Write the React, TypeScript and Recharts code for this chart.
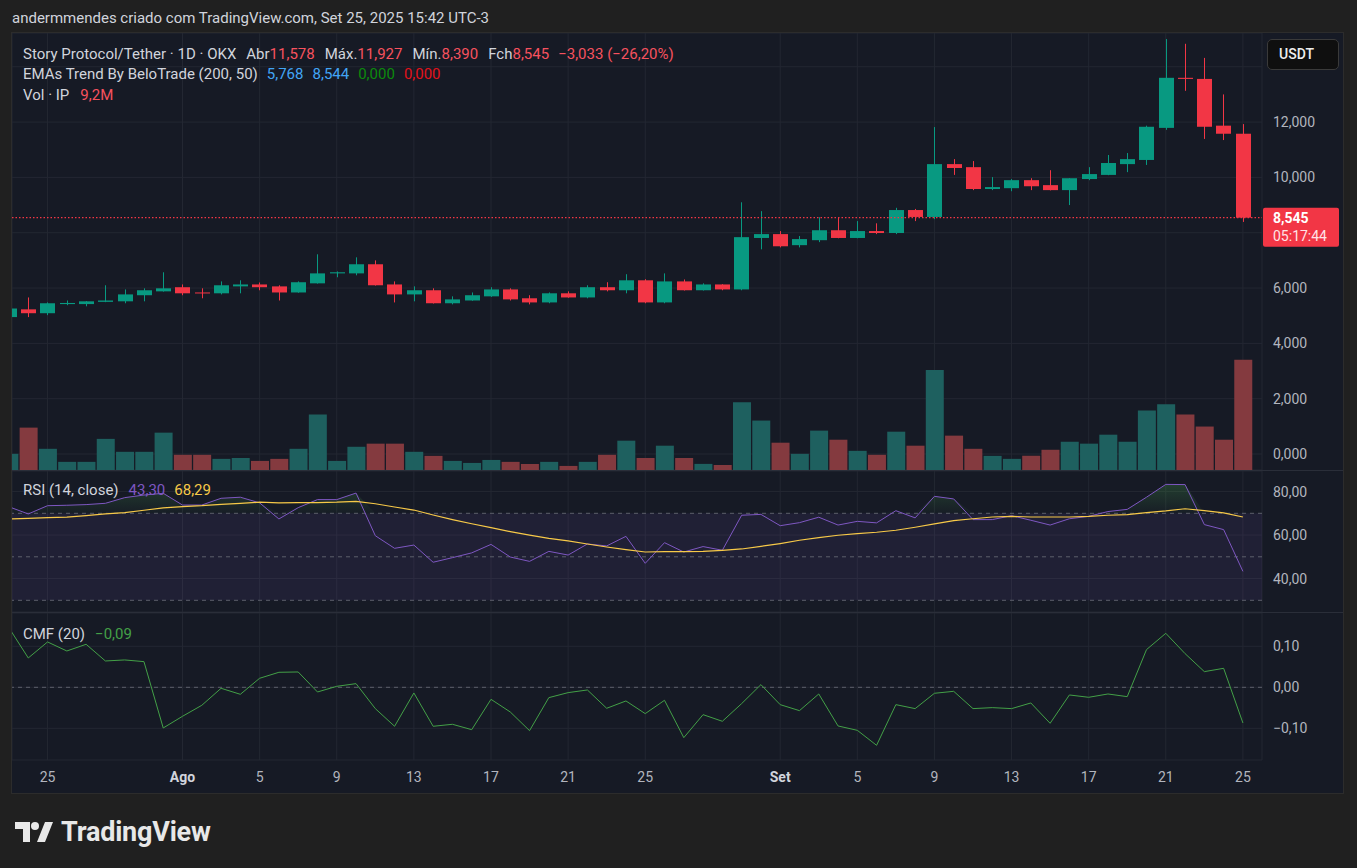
import React from 'react';
import {
  ComposedChart,
  Bar,
  Line,
  Area,
  XAxis,
  YAxis,
  CartesianGrid,
  ReferenceLine,
  ReferenceArea,
  Cell,
} from 'recharts';

// IP/USDT 1D (OKX), 23 jul – 25 set 2025
const opens = [
  4.95, 5.23, 5.09, 5.42, 5.42, 5.5, 5.52, 5.74, 5.88, 6.03,
  5.84, 5.81, 6.06, 6.13, 6.06, 5.84, 6.17, 6.53, 6.53, 6.86,
  6.13, 5.77, 5.92, 5.45, 5.55, 5.7, 5.95, 5.63, 5.48, 5.81,
  5.66, 6.03, 5.92, 6.28, 5.48, 6.24, 5.92, 6.13, 5.95, 7.81,
  7.95, 7.55, 7.73, 8.09, 7.81, 8.06, 7.99, 8.82, 8.57, 10.48,
  10.37, 9.58, 9.61, 9.9, 9.72, 9.54, 9.94, 10.09, 10.48, 10.63,
  11.79, 13.6, 13.56, 11.87, 11.578,
];
const highs = [
  5.28, 5.66, 5.48, 5.55, 5.53, 6.1, 5.95, 5.99, 6.57, 6.13,
  5.99, 6.24, 6.28, 6.2, 6.1, 6.24, 7.22, 6.6, 7.11, 7.0,
  6.24, 6.06, 5.99, 5.7, 5.84, 6.03, 5.99, 5.74, 5.84, 5.88,
  6.1, 6.21, 6.5, 6.32, 6.53, 6.31, 6.17, 6.14, 9.1, 8.78,
  8.06, 7.88, 8.56, 8.56, 8.42, 8.34, 8.9, 8.86, 11.82, 10.66,
  10.59, 10.01, 9.94, 9.97, 10.26, 9.97, 10.37, 10.81, 10.88, 11.87,
  15.0, 14.83, 14.32, 13.0, 11.927,
];
const lows = [
  4.92, 4.95, 5.02, 5.38, 5.34, 5.49, 5.45, 5.52, 5.87, 5.74,
  5.63, 5.77, 5.81, 5.92, 5.55, 5.83, 6.16, 6.39, 6.46, 6.09,
  5.48, 5.52, 5.44, 5.41, 5.54, 5.68, 5.55, 5.41, 5.45, 5.65,
  5.63, 5.88, 5.81, 5.45, 5.45, 5.91, 5.91, 5.92, 5.92, 7.4,
  7.47, 7.47, 7.66, 7.8, 7.8, 7.95, 7.95, 8.42, 8.49, 10.09,
  9.54, 9.54, 9.5, 9.54, 9.53, 9.0, 9.9, 10.08, 10.19, 10.45,
  11.72, 13.13, 11.39, 11.35, 8.39,
];
const closes = [
  5.26, 5.09, 5.45, 5.46, 5.52, 5.55, 5.77, 5.92, 5.99, 5.81,
  5.82, 6.1, 6.13, 6.03, 5.84, 6.21, 6.53, 6.57, 6.86, 6.1,
  5.77, 5.92, 5.45, 5.59, 5.74, 5.95, 5.59, 5.48, 5.81, 5.66,
  6.03, 5.92, 6.28, 5.48, 6.24, 5.92, 6.13, 5.95, 7.84, 7.95,
  7.51, 7.77, 8.09, 7.81, 8.06, 7.99, 8.82, 8.57, 10.48, 10.34,
  9.58, 9.65, 9.9, 9.68, 9.54, 9.97, 10.12, 10.52, 10.66, 11.83,
  13.6, 13.56, 11.83, 11.578, 8.545,
];
// volume em milhões
const volumes = [
  1.35, 3.54, 1.77, 0.68, 0.68, 2.6, 1.52, 1.52, 3.12, 1.27,
  1.27, 0.93, 1.0, 0.76, 0.93, 1.77, 4.64, 0.76, 1.94, 2.2,
  2.2, 1.52, 1.18, 0.76, 0.59, 0.84, 0.68, 0.51, 0.68, 0.34,
  0.68, 1.27, 2.45, 1.0, 2.03, 1.0, 0.51, 0.42, 5.65, 4.13,
  2.28, 1.35, 3.29, 2.53, 1.6, 1.27, 3.2, 2.03, 8.35, 2.87,
  1.77, 1.18, 0.93, 1.18, 1.69, 2.36, 2.2, 2.95, 2.36, 4.98,
  5.49, 4.64, 3.63, 2.53, 9.2,
];
const rsiValues = [
  73.0, 69.7, 73.5, 73.7, 74.0, 74.6, 77.2, 78.4, 79.2, 73.8,
  73.8, 76.9, 77.4, 74.8, 67.4, 72.6, 76.3, 76.3, 79.3, 59.7,
  53.9, 55.4, 47.5, 49.6, 51.8, 55.7, 49.9, 47.9, 52.5, 50.8,
  55.9, 55.0, 59.4, 47.0, 56.5, 52.2, 54.7, 53.0, 69.1, 69.5,
  64.3, 65.7, 68.2, 64.6, 66.3, 65.6, 71.2, 67.9, 77.8, 76.6,
  67.1, 67.1, 68.9, 66.8, 64.6, 67.5, 68.6, 70.8, 71.8, 77.4,
  83.3, 83.2, 64.8, 62.5, 43.3,
];
const rsiMaValues = [
  67.4, 67.7, 68.0, 68.2, 68.9, 69.7, 70.3, 71.4, 72.5, 73.1,
  73.5, 74.1, 74.6, 75.1, 74.8, 74.9, 74.9, 75.1, 75.5, 74.4,
  72.9, 71.5, 69.2, 67.1, 65.2, 63.4, 61.6, 60.0, 58.5, 57.3,
  55.9, 54.5, 53.3, 52.2, 52.4, 52.4, 52.5, 53.0, 53.6, 54.8,
  56.1, 57.6, 58.8, 59.9, 60.7, 61.3, 62.2, 63.6, 65.1, 66.6,
  67.5, 68.3, 68.6, 68.3, 68.3, 68.3, 68.6, 69.1, 69.4, 70.3,
  71.1, 72.1, 71.2, 70.2, 68.29,
];
const cmfValues = [
  0.145, 0.0715, 0.1106, 0.0886, 0.1049, 0.0642, 0.0667, 0.0626, -0.0992, -0.0707,
  -0.0439, -0.0024, -0.0171, 0.022, 0.0366, 0.0374, -0.0114, 0.0024, 0.0089, -0.052,
  -0.0951, -0.0138, -0.0951, -0.0902, -0.1033, -0.0293, -0.0602, -0.1057, -0.0252, -0.013,
  -0.0065, -0.0512, -0.0333, -0.0642, -0.0317, -0.1228, -0.0667, -0.0829, -0.0398, 0.0065,
  -0.0423, -0.0569, -0.0163, -0.0943, -0.1049, -0.1415, -0.0423, -0.052, -0.0146, -0.0098,
  -0.052, -0.0496, -0.052, -0.0382, -0.0878, -0.0187, -0.0244, -0.0163, -0.0228, 0.0919,
  0.1317, 0.0821, 0.0382, 0.0463, -0.087,
];
const emaLegend = [5.768, 8.544, 0, 0];

const tickDays = [2, 9, 13, 17, 21, 25, 29, 33, 40, 44, 48, 52, 56, 60, 64];
const tickLabels = ['25', 'Ago', '5', '9', '13', '17', '21', '25', 'Set', '5', '9', '13', '17', '21', '25'];
const priceTicks = [0, 2, 4, 6, 8, 10, 12, 14];
const hiddenPriceLabels = [8, 14];
const rsiTicks = [40, 60, 80];
const rsiLevels = [70, 50, 30];
const cmfTicks = [-0.1, 0, 0.1];

const FONT = 'Roboto, "Liberation Sans", sans-serif';
const BG = '#161a25';
const GRID = '#232732';
const TEXT = '#b2b5be';
const LEGEND = '#d1d4dc';
const UP = '#089981';
const DOWN = '#f23645';
const VOL_UP = '#1e605f';
const VOL_DOWN = '#843a3f';
const DASH = '#5d606b';

const W = 1331;
const AXIS_W = 81;
const X_DOMAIN = [0.156, 64.99];
const PRICE_DOMAIN = [-0.578, 15.22];
const VOL_DOMAIN = [0, 36.5];
const RSI_DOMAIN = [24.62, 89.45];
const CMF_DOMAIN = [-0.1773, 0.1812];
const ZERO = { top: 0, right: 0, bottom: 0, left: 0 };

const fmt = (v: number, d: number) => v.toFixed(d).replace('.', ',').replace('-', '\u2212');

const Candle = (props: any) => {
  const { x, y, width, height, payload } = props;
  const { open, close, high, low } = payload;
  const color = close >= open ? UP : DOWN;
  const top = Math.min(y, y + height);
  const h = Math.abs(height);
  const ppu = h / (high - low);
  const cx = Math.round(x + width / 2);
  const bodyTop = top + (high - Math.max(open, close)) * ppu;
  const bodyH = Math.max(1, Math.abs(open - close) * ppu);
  return (
    <g>
      <line x1={cx + 0.5} x2={cx + 0.5} y1={top} y2={top + h} stroke={color} strokeWidth={1} />
      <rect x={cx - 7} y={bodyTop} width={15} height={bodyH} fill={color} />
    </g>
  );
};

const PriceTick = (props: any) => {
  const { x, y, payload } = props;
  if (hiddenPriceLabels.includes(payload.value)) return <g />;
  return (
    <text x={x + 3} y={y} dy={5} fontSize={14} fill={TEXT} fontFamily={FONT} textAnchor="start">
      {fmt(payload.value, 3)}
    </text>
  );
};

const makeTick = (digits: number) => (props: any) => {
  const { x, y, payload } = props;
  return (
    <text x={x + 3} y={y} dy={5} fontSize={14} fill={TEXT} fontFamily={FONT} textAnchor="start">
      {fmt(payload.value, digits)}
    </text>
  );
};

const TimeTick = (props: any) => {
  const { x, y, payload } = props;
  const label = tickLabels[tickDays.indexOf(payload.value)];
  const strong = label === 'Ago' || label === 'Set';
  return (
    <text
      x={x}
      y={y}
      dy={14}
      textAnchor="middle"
      fontSize={14}
      fontFamily={FONT}
      fontWeight={strong ? 700 : 400}
      fill={strong ? LEGEND : TEXT}
    >
      {label}
    </text>
  );
};

const lastClose = closes[closes.length - 1];

const PriceTag = (props: any) => {
  const { viewBox } = props;
  const left = viewBox.x + viewBox.width;
  const yy = viewBox.y;
  return (
    <g>
      <rect x={left + 1} y={yy - 10} width={76} height={39} rx={2} fill={DOWN} />
      <text x={left + 11} y={yy + 5} fontSize={14} fontWeight={700} fill="#ffffff" fontFamily={FONT}>
        {fmt(lastClose, 3)}
      </text>
      <text x={left + 11} y={yy + 23} fontSize={14} fill="#ffe3e6" fontFamily={FONT}>
        05:17:44
      </text>
    </g>
  );
};

const candleRange = (d: any) => [d.low, d.high];
const obRange = (d: any) => [70, Math.max(70, d.rsi)];

const Val = ({ color, children, gap = 0 }: any) => (
  <span style={{ color, marginLeft: gap }}>{children}</span>
);

export default function App() {
  const rows = closes.map((close, i) => ({
    i,
    open: opens[i],
    high: highs[i],
    low: lows[i],
    close,
    vol: volumes[i],
    rsi: rsiValues[i],
    rsiMa: rsiMaValues[i],
    cmf: cmfValues[i],
  }));
  const n = rows.length - 1;
  const prev = closes[n - 1];
  const chg = lastClose - prev;
  const pct = (chg / prev) * 100;
  const red = '#f7525f';

  const xAxisHidden = (
    <XAxis type="number" dataKey="i" domain={X_DOMAIN} ticks={tickDays} allowDataOverflow hide interval={0} />
  );

  const legendBase: React.CSSProperties = {
    position: 'absolute',
    left: 23,
    fontSize: 15,
    lineHeight: '20px',
    whiteSpace: 'nowrap',
    color: LEGEND,
    fontFamily: FONT,
  };

  return (
    <div
      style={{
        position: 'absolute',
        left: 0,
        top: 0,
        width: 1357,
        height: 868,
        background: '#202020',
        overflow: 'hidden',
        fontFamily: FONT,
      }}
    >
      <div style={{ position: 'absolute', left: 12, top: 9, fontSize: 15, color: LEGEND }}>
        andermmendes criado com TradingView.com, Set 25, 2025 15:42 UTC-3
      </div>

      <div
        style={{
          position: 'absolute',
          left: 11,
          top: 32,
          width: W + 2,
          height: 762,
          boxSizing: 'border-box',
          border: '1px solid #2c2c2c',
          background: BG,
        }}
      />

      {/* price pane: grid, volume, price scale */}
      <div style={{ position: 'absolute', left: 12, top: 33 }}>
        <ComposedChart width={W} height={437} data={rows} margin={ZERO}>
          <CartesianGrid stroke={GRID} />
          {xAxisHidden}
          <YAxis
            orientation="right"
            width={AXIS_W}
            domain={PRICE_DOMAIN}
            ticks={priceTicks}
            allowDataOverflow
            interval={0}
            axisLine={false}
            tickLine={false}
            tick={<PriceTick />}
          />
          <YAxis yAxisId="vol" hide domain={VOL_DOMAIN} allowDataOverflow />
          <Bar yAxisId="vol" dataKey="vol" barSize={18} isAnimationActive={false}>
            {rows.map((r) => (
              <Cell key={r.i} fill={r.close >= r.open ? VOL_UP : VOL_DOWN} />
            ))}
          </Bar>
        </ComposedChart>
      </div>

      {/* price pane: candles */}
      <div style={{ position: 'absolute', left: 12, top: 33 }}>
        <ComposedChart width={W} height={437} data={rows} margin={{ top: 0, right: AXIS_W, bottom: 0, left: 0 }}>
          {xAxisHidden}
          <YAxis hide domain={PRICE_DOMAIN} allowDataOverflow />
          <Bar dataKey={candleRange} barSize={15} shape={Candle} isAnimationActive={false} />
          <ReferenceLine
            y={lastClose}
            stroke={DOWN}
            strokeWidth={1.3}
            strokeDasharray="1.5 2"
            label={PriceTag}
          />
        </ComposedChart>
      </div>

      <div
        style={{
          position: 'absolute',
          left: 1267,
          top: 39,
          width: 72,
          height: 31,
          boxSizing: 'border-box',
          border: '1px solid #3a3a3a',
          borderRadius: 5,
          background: '#0f0f0f',
          color: '#eeeeee',
          fontSize: 14,
          fontWeight: 500,
          lineHeight: '29px',
          paddingLeft: 11,
        }}
      >
        USDT
      </div>

      <div style={{ ...legendBase, top: 44 }}>
        Story Protocol/Tether · 1D · OKX
        <Val gap={10} color={LEGEND}>Abr</Val>
        <Val color={red}>{fmt(opens[n], 3)}</Val>
        <Val gap={10} color={LEGEND}>Máx.</Val>
        <Val color={red}>{fmt(highs[n], 3)}</Val>
        <Val gap={10} color={LEGEND}>Mín.</Val>
        <Val color={red}>{fmt(lows[n], 3)}</Val>
        <Val gap={10} color={LEGEND}>Fch</Val>
        <Val color={red}>{fmt(lastClose, 3)}</Val>
        <Val gap={9} color={red}>
          {fmt(chg, 3)} ({fmt(pct, 2)}%)
        </Val>
      </div>
      <div style={{ ...legendBase, top: 64 }}>
        EMAs Trend By BeloTrade (200, 50)
        <Val gap={9} color="#42a5f5">{fmt(emaLegend[0], 3)}</Val>
        <Val gap={9} color="#42a5f5">{fmt(emaLegend[1], 3)}</Val>
        <Val gap={9} color="#0c8a0c">{fmt(emaLegend[2], 3)}</Val>
        <Val gap={9} color="#e3121b">{fmt(emaLegend[3], 3)}</Val>
      </div>
      <div style={{ ...legendBase, top: 85 }}>
        Vol · IP
        <Val gap={11} color={red}>{fmt(volumes[n], 1)}M</Val>
      </div>

      <div style={{ position: 'absolute', left: 12, top: 470, width: W, height: 1, background: '#2a2e39' }} />

      {/* RSI pane */}
      <div style={{ position: 'absolute', left: 12, top: 471 }}>
        <ComposedChart width={W} height={141} data={rows} margin={ZERO}>
          <defs>
            <linearGradient id="obFill" x1="0" y1="0" x2="0" y2="1">
              <stop offset="0%" stopColor="#4caf50" stopOpacity={0.4} />
              <stop offset="100%" stopColor="#4caf50" stopOpacity={0.04} />
            </linearGradient>
          </defs>
          <CartesianGrid stroke={GRID} />
          {xAxisHidden}
          <YAxis
            orientation="right"
            width={AXIS_W}
            domain={RSI_DOMAIN}
            ticks={rsiTicks}
            allowDataOverflow
            interval={0}
            axisLine={false}
            tickLine={false}
            tick={makeTick(2)}
          />
          <ReferenceArea y1={30} y2={70} fill="#7e57c2" fillOpacity={0.1} stroke="none" />
          {rsiLevels.map((lv) => (
            <ReferenceLine key={lv} y={lv} stroke={DASH} strokeDasharray="4 4" />
          ))}
          <Area dataKey={obRange} stroke="none" fill="url(#obFill)" isAnimationActive={false} />
          <Line dataKey="rsi" stroke="#7e57c2" strokeWidth={1} dot={false} isAnimationActive={false} />
          <Line dataKey="rsiMa" stroke="#f7c948" strokeWidth={1.2} dot={false} isAnimationActive={false} />
        </ComposedChart>
      </div>
      <div style={{ ...legendBase, top: 480 }}>
        RSI (14, close)
        <Val gap={10} color="#7e57c2">{fmt(rsiValues[n], 2)}</Val>
        <Val gap={9} color="#f7c948">{fmt(rsiMaValues[n], 2)}</Val>
      </div>

      <div style={{ position: 'absolute', left: 12, top: 612, width: W, height: 1, background: '#2a2e39' }} />

      {/* CMF pane + time axis */}
      <div style={{ position: 'absolute', left: 12, top: 613 }}>
        <ComposedChart width={W} height={180} data={rows} margin={ZERO}>
          <CartesianGrid stroke={GRID} />
          <XAxis
            type="number"
            dataKey="i"
            domain={X_DOMAIN}
            ticks={tickDays}
            allowDataOverflow
            interval={0}
            height={33}
            axisLine={false}
            tickLine={false}
            tick={<TimeTick />}
          />
          <YAxis
            orientation="right"
            width={AXIS_W}
            domain={CMF_DOMAIN}
            ticks={cmfTicks}
            allowDataOverflow
            interval={0}
            axisLine={false}
            tickLine={false}
            tick={makeTick(2)}
          />
          <ReferenceLine y={0} stroke={DASH} strokeDasharray="4 4" />
          <Line dataKey="cmf" stroke="#43a047" strokeWidth={1} dot={false} isAnimationActive={false} />
        </ComposedChart>
      </div>
      <div style={{ ...legendBase, top: 624 }}>
        CMF (20)
        <Val gap={10} color="#43a047">{fmt(cmfValues[n], 2)}</Val>
      </div>

      <div style={{ position: 'absolute', left: 15, top: 816, display: 'flex', alignItems: 'center' }}>
        <svg width={38} height={22} viewBox="0 0 38 22">
          <path d="M0 1 H15 V21 H8 V8 H0 Z" fill="#e8e8e8" />
          <circle cx={20} cy={5} r={4} fill="#e8e8e8" />
          <path d="M22 21 L30 1 H38 L30 21 Z" fill="#e8e8e8" />
        </svg>
        <span style={{ marginLeft: 8, fontSize: 27, fontWeight: 700, color: '#e8e8e8', letterSpacing: -0.2 }}>
          TradingView
        </span>
      </div>
    </div>
  );
}
